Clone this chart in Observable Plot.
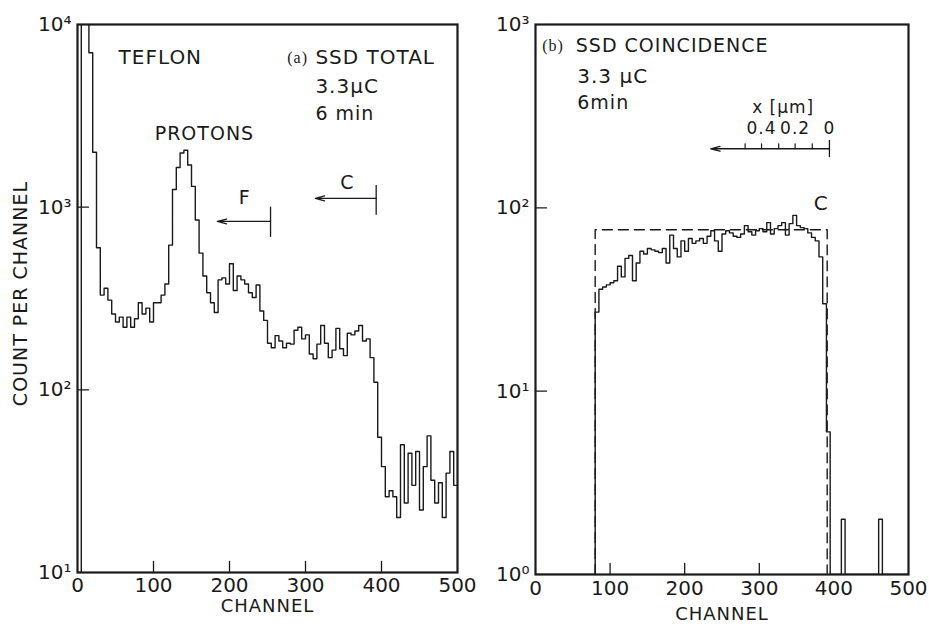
<!DOCTYPE html>
<html><head><meta charset="utf-8">
<script src="https://cdn.jsdelivr.net/npm/d3@7"></script>
<script src="https://cdn.jsdelivr.net/npm/@observablehq/plot@0.6"></script>
<style>
body{margin:0;background:#fff;}
#wrap{position:relative;width:929px;height:627px;overflow:hidden;background:#fff;}
#left,#right{position:absolute;top:0;}
#left{left:0;} #right{left:460px;}
svg{overflow:visible;}
g[aria-label="text"] text{letter-spacing:1px;}
</style></head><body><div id="wrap"><div id="left"></div><div id="right"></div></div>
<script>
// ---------- data ----------
const binWidth = 5; // channels per histogram bin
const channelTicks = [0, 100, 200, 300, 400, 500];
const innerChannelTicks = [100, 200, 300, 400];

// (a) SSD total, counts per 5-channel bin starting at channel 0
const totalCounts = [
  10, 30000, 30000, 7000, 2000, 600, 330, 360, 310, 260,
  235, 250, 220, 250, 220, 245, 300, 260, 280, 235,
  300, 300, 330, 380, 620, 1250, 1650, 1980, 2050, 1700,
  1300, 850, 560, 420, 340, 300, 265, 400, 410, 380,
  490, 350, 420, 400, 380, 340, 320, 375, 270, 240,
  180, 170, 198, 185, 170, 180, 178, 212, 220, 190,
  200, 157, 148, 178, 225, 180, 150, 165, 217, 168,
  154, 204, 200, 210, 225, 185, 190, 150, 110, 55,
  38, 26, 28, 26, 20, 50, 24, 45, 30, 46,
  22, 38, 56, 32, 24, 31, 20, 35, 46, 30
];
const yTicksA = [10, 100, 1000, 10000];
const innerYTicksA = [100, 1000];

// (b) SSD coincidence, counts per 5-channel bin starting at channel 0
const coincCounts = [
  1, 1, 1, 1, 1, 1, 1, 1, 1, 1,
  1, 1, 1, 1, 1, 1, 27, 36, 37, 38,
  39, 40, 48, 42, 53, 55, 40, 50, 58, 56,
  60, 59, 58, 57, 60, 50, 71, 60, 54, 66,
  58, 68, 64, 66, 68, 64, 70, 75, 66, 58,
  72, 75, 73, 70, 69, 72, 80, 74, 71, 75,
  77, 74, 83, 72, 77, 80, 83, 71, 82, 91,
  80, 78, 77, 73, 69, 66, 54, 30, 6, 1,
  1, 1, 2, 1, 1, 1, 1, 1, 1, 1,
  1, 1, 2, 1, 1, 1, 1, 1, 1, 1
];
const yTicksB = [1, 10, 100, 1000];
const innerYTicksB = [10, 100];

// dashed ideal box in (b)
const boxChannels = [80, 80, 391, 391];
const boxCounts = [1, 76, 76, 1];

// range arrows in (a): F and C
const arrowNames = ["F", "C"];
const arrowStart = [254, 393];
const arrowTip = [184, 313];
const arrowLevel = [835, 1117];
const arrowBarTop = [1000, 1316];
const arrowBarBottom = [683, 902];
const arrowLabelChannel = [220, 355];
const arrowLabelLevel = [1130, 1365];

// depth scale x [µm] in (b)
const depthStart = 394, depthTip = 235, depthLevel = 210;
const depthBar = [233, 188];
const depthTickChannels = [281, 303, 326, 348, 371];
const depthLabels = ["0.4", "0.2", "0"];
const depthLabelChannels = [303, 348, 394];

// ---------- helpers ----------
const FONT = "DejaVu Sans, sans-serif";
const sup = {"0": "\u2070", "1": "\u00B9", "2": "\u00B2", "3": "\u00B3", "4": "\u2074"};
const powFmt = d => "10" + sup[String(Math.round(Math.log10(d)))];
const tickShape = {draw(ctx, l) { ctx.moveTo(0, 0); ctx.lineTo(0, -l); }};
const steps = counts => {
  const pts = counts.map((n, i) => ({ch: i * binWidth, n}));
  pts.push({ch: counts.length * binWidth, n: counts[counts.length - 1]});
  return pts;
};
const ink = "#1a1a1a";

// ---------- panel (a) ----------
const yMinA = yTicksA[0];
const left = Plot.plot({
  width: 470, height: 627,
  marginLeft: 77, marginRight: 13, marginTop: 24, marginBottom: 55,
  style: {fontFamily: FONT, fontSize: "19px", background: "white", color: ink},
  x: {domain: [0, 500]},
  y: {type: "log", domain: [10, 10000]},
  marks: [
    Plot.line(steps(totalCounts), {x: "ch", y: "n", curve: "step-after", stroke: ink, strokeWidth: 1.4, clip: true}),
    Plot.frame({stroke: ink, strokeWidth: 2.2}),
    Plot.axisX({ticks: channelTicks, tickSize: 0, tickPadding: 5, fontSize: 20, label: null}),
    Plot.axisY({ticks: yTicksA, tickFormat: powFmt, tickSize: 0, tickPadding: 6, fontSize: 20, label: null}),
    Plot.vector(innerYTicksA, {x: 0, y: d => d, rotate: 90, length: 11, anchor: "start", shape: tickShape, stroke: ink, strokeWidth: 1.3}),
    Plot.vector(innerChannelTicks, {x: d => d, y: yMinA, rotate: 0, length: 11, anchor: "start", shape: tickShape, stroke: ink, strokeWidth: 1.3}),
    Plot.text(["CHANNEL"], {frameAnchor: "bottom", dy: 39, fontSize: 18}),
    Plot.text(["COUNT PER CHANNEL"], {frameAnchor: "left", textAnchor: "middle", dx: -57, dy: -5, rotate: -90, fontSize: 19}),
    Plot.text(["TEFLON"], {x: 109, y: 6590, fontSize: 20}),
    Plot.text(["(a)"], {x: 276, y: 6590, textAnchor: "start", fontSize: 16, fontFamily: "Liberation Serif, serif"}),
    Plot.text(["SSD TOTAL"], {x: 313, y: 6590, textAnchor: "start", fontSize: 20}),
    Plot.text(["3.3\u00B5C"], {x: 313, y: 4580, textAnchor: "start", fontSize: 20}),
    Plot.text(["6 min"], {x: 313, y: 3260, textAnchor: "start", fontSize: 19}),
    Plot.text(["PROTONS"], {x: 167, y: 2530, fontSize: 19}),
    Plot.arrow(arrowNames, {x1: (d, i) => arrowStart[i], x2: (d, i) => arrowTip[i], y1: (d, i) => arrowLevel[i], y2: (d, i) => arrowLevel[i], stroke: ink, strokeWidth: 1.3, headLength: 11, headAngle: 30}),
    Plot.ruleX(arrowNames, {x: (d, i) => arrowStart[i], y1: (d, i) => arrowBarTop[i], y2: (d, i) => arrowBarBottom[i], stroke: ink, strokeWidth: 1.3}),
    Plot.text(arrowNames, {x: (d, i) => arrowLabelChannel[i], y: (d, i) => arrowLabelLevel[i], text: d => d, fontSize: 19})
  ]
});
document.getElementById("left").append(left);

// ---------- panel (b) ----------
const yMinB = yTicksB[0];
const right = Plot.plot({
  width: 469, height: 627,
  marginLeft: 75, marginRight: 21, marginTop: 24, marginBottom: 53,
  style: {fontFamily: FONT, fontSize: "19px", background: "transparent", color: ink},
  x: {domain: [0, 500]},
  y: {type: "log", domain: [1, 1000]},
  marks: [
    Plot.line(boxChannels.map((c, i) => ({ch: c, n: boxCounts[i]})), {x: "ch", y: "n", stroke: ink, strokeWidth: 1.4, strokeDasharray: "10,6"}),
    Plot.line(steps(coincCounts), {x: "ch", y: "n", curve: "step-after", stroke: ink, strokeWidth: 1.4, clip: true}),
    Plot.frame({stroke: ink, strokeWidth: 2.2}),
    Plot.axisX({ticks: channelTicks, tickSize: 0, tickPadding: 6, fontSize: 20, label: null}),
    Plot.axisY({ticks: yTicksB, tickFormat: powFmt, tickSize: 0, tickPadding: 6, fontSize: 20, label: null}),
    Plot.vector(innerYTicksB, {x: 0, y: d => d, rotate: 90, length: 11, anchor: "start", shape: tickShape, stroke: ink, strokeWidth: 1.3}),
    Plot.vector(innerChannelTicks.slice(0, 3), {x: d => d, y: yMinB, rotate: 0, length: 11, anchor: "start", shape: tickShape, stroke: ink, strokeWidth: 1.3}),
    Plot.text(["CHANNEL"], {frameAnchor: "bottom", dy: 45, fontSize: 18}),
    Plot.text(["(b)"], {x: 9, y: 768, textAnchor: "start", fontSize: 16, fontFamily: "Liberation Serif, serif"}),
    Plot.text(["SSD COINCIDENCE"], {x: 54, y: 768, textAnchor: "start", fontSize: 19}),
    Plot.text(["3.3 \u00B5C"], {x: 56, y: 520, textAnchor: "start", fontSize: 20}),
    Plot.text(["6min"], {x: 56, y: 375, textAnchor: "start", fontSize: 19}),
    Plot.text(["x [\u00B5m]"], {x: 332, y: 352, fontSize: 17}),
    Plot.text(depthLabels, {x: (d, i) => depthLabelChannels[i], y: 271, text: d => d, fontSize: 17}),
    Plot.arrow([0], {x1: depthStart, x2: depthTip, y1: depthLevel, y2: depthLevel, stroke: ink, strokeWidth: 1.3, headLength: 11, headAngle: 30}),
    Plot.ruleX([0], {x: depthStart, y1: depthBar[0], y2: depthBar[1], stroke: ink, strokeWidth: 1.3}),
    Plot.vector(depthTickChannels, {x: d => d, y: depthLevel, rotate: 0, length: 5, anchor: "start", shape: tickShape, stroke: ink, strokeWidth: 1.2}),
    Plot.text(["C"], {x: 383, y: 105, fontSize: 20})
  ]
});
document.getElementById("right").append(right);
</script>
</body></html>
